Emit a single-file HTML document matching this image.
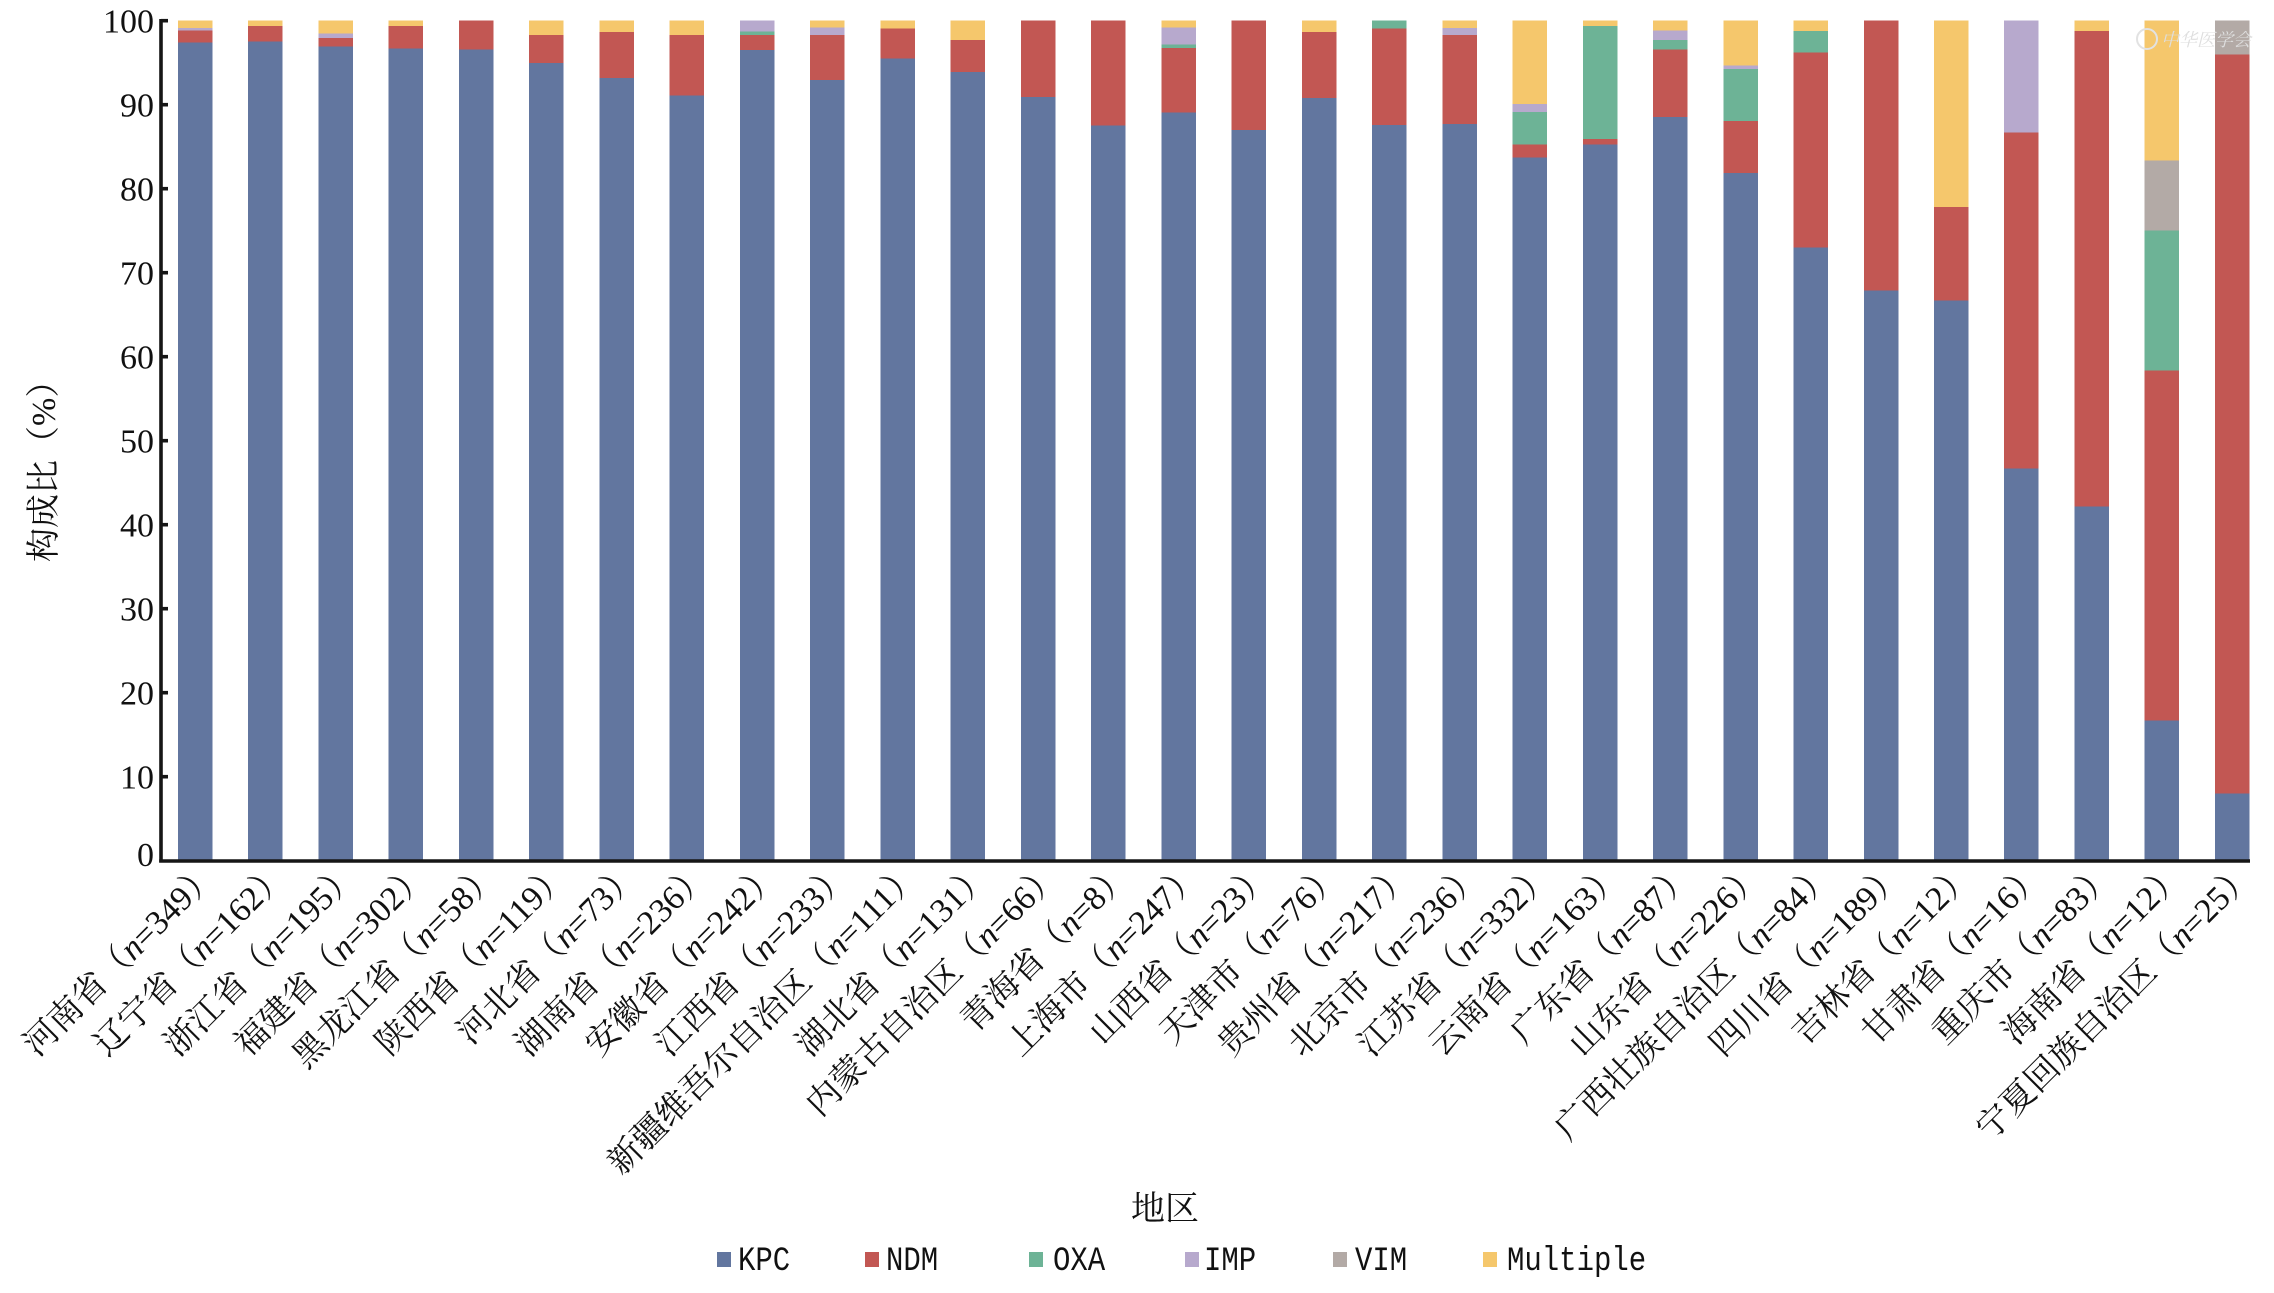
<!DOCTYPE html>
<html><head><meta charset="utf-8"><style>
html,body{margin:0;padding:0;background:#fff;}
svg{display:block;}
.t{font-family:"Liberation Serif","Noto Serif CJK SC",serif;font-size:34px;fill:#111;}
.lg{font-family:"Liberation Mono","Noto Serif CJK SC",monospace;font-size:29px;fill:#111;}
.wm{font-family:"Liberation Serif","Noto Serif CJK SC",serif;font-size:18px;font-style:italic;fill:#dedede;}
</style></head><body>
<svg width="2274" height="1293" viewBox="0 0 2274 1293" xmlns="http://www.w3.org/2000/svg">
<rect width="2274" height="1293" fill="#fff"/>
<g shape-rendering="crispEdges">
<!-- 1 河南 -->
<rect x="178" y="20.7" width="34.5" height="840" fill="#F5C76C"/>
<rect x="178" y="27.92" width="34.5" height="832.78" fill="#B7A9CD"/>
<rect x="178" y="30.36" width="34.5" height="830.34" fill="#C25753"/>
<rect x="178" y="42.37" width="34.5" height="818.33" fill="#62769F"/>
<!-- 2 辽宁 -->
<rect x="248.24" y="20.7" width="34.5" height="840" fill="#F5C76C"/>
<rect x="248.24" y="25.91" width="34.5" height="834.79" fill="#C25753"/>
<rect x="248.24" y="41.45" width="34.5" height="819.25" fill="#62769F"/>
<!-- 3 浙江 -->
<rect x="318.48" y="20.7" width="34.5" height="840" fill="#F5C76C"/>
<rect x="318.48" y="33.64" width="34.5" height="827.06" fill="#B7A9CD"/>
<rect x="318.48" y="37.92" width="34.5" height="822.78" fill="#C25753"/>
<rect x="318.48" y="46.57" width="34.5" height="814.13" fill="#62769F"/>
<!-- 4 福建 -->
<rect x="388.72" y="20.7" width="34.5" height="840" fill="#F5C76C"/>
<rect x="388.72" y="26.24" width="34.5" height="834.46" fill="#C25753"/>
<rect x="388.72" y="48.5" width="34.5" height="812.2" fill="#62769F"/>
<!-- 5 黑龙江 -->
<rect x="458.96" y="20.7" width="34.5" height="840" fill="#C25753"/>
<rect x="458.96" y="49.68" width="34.5" height="811.02" fill="#62769F"/>
<!-- 6 陕西 -->
<rect x="529.2" y="20.7" width="34.5" height="840" fill="#F5C76C"/>
<rect x="529.2" y="34.81" width="34.5" height="825.89" fill="#C25753"/>
<rect x="529.2" y="63.04" width="34.5" height="797.66" fill="#62769F"/>
<!-- 7 河北 -->
<rect x="599.44" y="20.7" width="34.5" height="840" fill="#F5C76C"/>
<rect x="599.44" y="32.21" width="34.5" height="828.49" fill="#C25753"/>
<rect x="599.44" y="78.24" width="34.5" height="782.46" fill="#62769F"/>
<!-- 8 湖南 -->
<rect x="669.68" y="20.7" width="34.5" height="840" fill="#F5C76C"/>
<rect x="669.68" y="34.98" width="34.5" height="825.72" fill="#C25753"/>
<rect x="669.68" y="95.46" width="34.5" height="765.24" fill="#62769F"/>
<!-- 9 安徽 -->
<rect x="739.92" y="20.7" width="34.5" height="840" fill="#B7A9CD"/>
<rect x="739.92" y="31.62" width="34.5" height="829.08" fill="#6DB396"/>
<rect x="739.92" y="34.98" width="34.5" height="825.72" fill="#C25753"/>
<rect x="739.92" y="50.1" width="34.5" height="810.6" fill="#62769F"/>
<!-- 10 江西 -->
<rect x="810.16" y="20.7" width="34.5" height="840" fill="#F5C76C"/>
<rect x="810.16" y="27.42" width="34.5" height="833.28" fill="#B7A9CD"/>
<rect x="810.16" y="35.06" width="34.5" height="825.64" fill="#C25753"/>
<rect x="810.16" y="79.92" width="34.5" height="780.78" fill="#62769F"/>
<!-- 11 新疆 -->
<rect x="880.4" y="20.7" width="34.5" height="840" fill="#F5C76C"/>
<rect x="880.4" y="28.26" width="34.5" height="832.44" fill="#C25753"/>
<rect x="880.4" y="58.5" width="34.5" height="802.2" fill="#62769F"/>
<!-- 12 湖北 -->
<rect x="950.64" y="20.7" width="34.5" height="840" fill="#F5C76C"/>
<rect x="950.64" y="40.02" width="34.5" height="820.68" fill="#C25753"/>
<rect x="950.64" y="71.94" width="34.5" height="788.76" fill="#62769F"/>
<!-- 13 内蒙古 -->
<rect x="1020.88" y="20.7" width="34.5" height="840" fill="#C25753"/>
<rect x="1020.88" y="97.14" width="34.5" height="763.56" fill="#62769F"/>
<!-- 14 青海 -->
<rect x="1091.12" y="20.7" width="34.5" height="840" fill="#C25753"/>
<rect x="1091.12" y="125.7" width="34.5" height="735" fill="#62769F"/>
<!-- 15 上海 -->
<rect x="1161.36" y="20.7" width="34.5" height="840" fill="#F5C76C"/>
<rect x="1161.36" y="27.5" width="34.5" height="833.2" fill="#B7A9CD"/>
<rect x="1161.36" y="44.47" width="34.5" height="816.23" fill="#6DB396"/>
<rect x="1161.36" y="47.92" width="34.5" height="812.78" fill="#C25753"/>
<rect x="1161.36" y="112.51" width="34.5" height="748.19" fill="#62769F"/>
<!-- 16 山西 -->
<rect x="1231.6" y="20.7" width="34.5" height="840" fill="#C25753"/>
<rect x="1231.6" y="130.24" width="34.5" height="730.46" fill="#62769F"/>
<!-- 17 天津 -->
<rect x="1301.84" y="20.7" width="34.5" height="840" fill="#F5C76C"/>
<rect x="1301.84" y="31.79" width="34.5" height="828.91" fill="#C25753"/>
<rect x="1301.84" y="98.06" width="34.5" height="762.64" fill="#62769F"/>
<!-- 18 贵州 -->
<rect x="1372.08" y="20.7" width="34.5" height="840" fill="#6DB396"/>
<rect x="1372.08" y="28.43" width="34.5" height="832.27" fill="#C25753"/>
<rect x="1372.08" y="125.2" width="34.5" height="735.5" fill="#62769F"/>
<!-- 19 北京 -->
<rect x="1442.32" y="20.7" width="34.5" height="840" fill="#F5C76C"/>
<rect x="1442.32" y="27.84" width="34.5" height="832.86" fill="#B7A9CD"/>
<rect x="1442.32" y="34.98" width="34.5" height="825.72" fill="#C25753"/>
<rect x="1442.32" y="123.94" width="34.5" height="736.76" fill="#62769F"/>
<!-- 20 江苏 -->
<rect x="1512.56" y="20.7" width="34.5" height="840" fill="#F5C76C"/>
<rect x="1512.56" y="104.2" width="34.5" height="756.5" fill="#B7A9CD"/>
<rect x="1512.56" y="111.76" width="34.5" height="748.94" fill="#6DB396"/>
<rect x="1512.56" y="144.68" width="34.5" height="716.02" fill="#C25753"/>
<rect x="1512.56" y="157.37" width="34.5" height="703.33" fill="#62769F"/>
<!-- 21 云南 -->
<rect x="1582.8" y="20.7" width="34.5" height="840" fill="#F5C76C"/>
<rect x="1582.8" y="25.82" width="34.5" height="834.88" fill="#6DB396"/>
<rect x="1582.8" y="139.22" width="34.5" height="721.48" fill="#C25753"/>
<rect x="1582.8" y="144.35" width="34.5" height="716.35" fill="#62769F"/>
<!-- 22 广东 -->
<rect x="1653.04" y="20.7" width="34.5" height="840" fill="#F5C76C"/>
<rect x="1653.04" y="30.28" width="34.5" height="830.42" fill="#B7A9CD"/>
<rect x="1653.04" y="39.94" width="34.5" height="820.76" fill="#6DB396"/>
<rect x="1653.04" y="49.6" width="34.5" height="811.1" fill="#C25753"/>
<rect x="1653.04" y="117.22" width="34.5" height="743.48" fill="#62769F"/>
<!-- 23 山东 -->
<rect x="1723.28" y="20.7" width="34.5" height="840" fill="#F5C76C"/>
<rect x="1723.28" y="65.39" width="34.5" height="795.31" fill="#B7A9CD"/>
<rect x="1723.28" y="69.08" width="34.5" height="791.62" fill="#6DB396"/>
<rect x="1723.28" y="121.08" width="34.5" height="739.62" fill="#C25753"/>
<rect x="1723.28" y="173.08" width="34.5" height="687.62" fill="#62769F"/>
<!-- 24 广西 -->
<rect x="1793.52" y="20.7" width="34.5" height="840" fill="#F5C76C"/>
<rect x="1793.52" y="31.03" width="34.5" height="829.67" fill="#6DB396"/>
<rect x="1793.52" y="52.37" width="34.5" height="808.33" fill="#C25753"/>
<rect x="1793.52" y="247.5" width="34.5" height="613.2" fill="#62769F"/>
<!-- 25 四川 -->
<rect x="1863.76" y="20.7" width="34.5" height="840" fill="#C25753"/>
<rect x="1863.76" y="290.34" width="34.5" height="570.36" fill="#62769F"/>
<!-- 26 吉林 -->
<rect x="1934" y="20.7" width="34.5" height="840" fill="#F5C76C"/>
<rect x="1934" y="207.18" width="34.5" height="653.52" fill="#C25753"/>
<rect x="1934" y="300.42" width="34.5" height="560.28" fill="#62769F"/>
<!-- 27 甘肃 -->
<rect x="2004.24" y="20.7" width="34.5" height="840" fill="#B7A9CD"/>
<rect x="2004.24" y="132.42" width="34.5" height="728.28" fill="#C25753"/>
<rect x="2004.24" y="468.42" width="34.5" height="392.28" fill="#62769F"/>
<!-- 28 重庆 -->
<rect x="2074.48" y="20.7" width="34.5" height="840" fill="#F5C76C"/>
<rect x="2074.48" y="30.78" width="34.5" height="829.92" fill="#C25753"/>
<rect x="2074.48" y="506.47" width="34.5" height="354.23" fill="#62769F"/>
<!-- 29 海南 -->
<rect x="2144.72" y="20.7" width="34.5" height="840" fill="#F5C76C"/>
<rect x="2144.72" y="160.73" width="34.5" height="699.97" fill="#B3AAA6"/>
<rect x="2144.72" y="230.7" width="34.5" height="630" fill="#6DB396"/>
<rect x="2144.72" y="370.73" width="34.5" height="489.97" fill="#C25753"/>
<rect x="2144.72" y="720.67" width="34.5" height="140.03" fill="#62769F"/>
<!-- 30 宁夏 -->
<rect x="2214.96" y="20.7" width="34.5" height="840" fill="#B3AAA6"/>
<rect x="2214.96" y="54.3" width="34.5" height="806.4" fill="#C25753"/>
<rect x="2214.96" y="793.5" width="34.5" height="67.2" fill="#62769F"/>
</g>

<!-- axes -->
<g stroke="#161616" stroke-width="3.6" fill="none">
<line x1="161" y1="19" x2="161" y2="862.5"/>
<line x1="159.2" y1="861" x2="2250" y2="861"/>
<line x1="161" y1="20.7" x2="168" y2="20.7"/>
<line x1="161" y1="104.7" x2="168" y2="104.7"/>
<line x1="161" y1="188.7" x2="168" y2="188.7"/>
<line x1="161" y1="272.7" x2="168" y2="272.7"/>
<line x1="161" y1="356.7" x2="168" y2="356.7"/>
<line x1="161" y1="440.7" x2="168" y2="440.7"/>
<line x1="161" y1="524.7" x2="168" y2="524.7"/>
<line x1="161" y1="608.7" x2="168" y2="608.7"/>
<line x1="161" y1="692.7" x2="168" y2="692.7"/>
<line x1="161" y1="776.7" x2="168" y2="776.7"/>
</g>
<g class="t" text-anchor="end">
<text x="154" y="32.5">100</text>
<text x="154" y="116.5">90</text>
<text x="154" y="200.5">80</text>
<text x="154" y="284.5">70</text>
<text x="154" y="368.5">60</text>
<text x="154" y="452.5">50</text>
<text x="154" y="536.5">40</text>
<text x="154" y="620.5">30</text>
<text x="154" y="704.5">20</text>
<text x="154" y="788.5">10</text>
<text x="154" y="866">0</text>
</g>

<!-- y title -->
<text class="t" x="0" y="0" transform="translate(55,562) rotate(-90)">构成比（%）</text>

<!-- x labels -->
<g class="t" text-anchor="end">
<text x="219.25" y="876" transform="rotate(-45 219.25 876)">河南省（<tspan font-style="italic">n</tspan>=349）</text>
<text x="289.49" y="876" transform="rotate(-45 289.49 876)">辽宁省（<tspan font-style="italic">n</tspan>=162）</text>
<text x="359.73" y="876" transform="rotate(-45 359.73 876)">浙江省（<tspan font-style="italic">n</tspan>=195）</text>
<text x="429.97" y="876" transform="rotate(-45 429.97 876)">福建省（<tspan font-style="italic">n</tspan>=302）</text>
<text x="500.21" y="876" transform="rotate(-45 500.21 876)">黑龙江省（<tspan font-style="italic">n</tspan>=58）</text>
<text x="570.45" y="876" transform="rotate(-45 570.45 876)">陕西省（<tspan font-style="italic">n</tspan>=119）</text>
<text x="640.69" y="876" transform="rotate(-45 640.69 876)">河北省（<tspan font-style="italic">n</tspan>=73）</text>
<text x="710.93" y="876" transform="rotate(-45 710.93 876)">湖南省（<tspan font-style="italic">n</tspan>=236）</text>
<text x="781.17" y="876" transform="rotate(-45 781.17 876)">安徽省（<tspan font-style="italic">n</tspan>=242）</text>
<text x="851.41" y="876" transform="rotate(-45 851.41 876)">江西省（<tspan font-style="italic">n</tspan>=233）</text>
<text x="921.65" y="876" transform="rotate(-45 921.65 876)">新疆维吾尔自治区（<tspan font-style="italic">n</tspan>=111）</text>
<text x="991.89" y="876" transform="rotate(-45 991.89 876)">湖北省（<tspan font-style="italic">n</tspan>=131）</text>
<text x="1062.13" y="876" transform="rotate(-45 1062.13 876)">内蒙古自治区（<tspan font-style="italic">n</tspan>=66）</text>
<text x="1132.37" y="876" transform="rotate(-45 1132.37 876)">青海省（<tspan font-style="italic">n</tspan>=8）</text>
<text x="1202.61" y="876" transform="rotate(-45 1202.61 876)">上海市（<tspan font-style="italic">n</tspan>=247）</text>
<text x="1272.85" y="876" transform="rotate(-45 1272.85 876)">山西省（<tspan font-style="italic">n</tspan>=23）</text>
<text x="1343.09" y="876" transform="rotate(-45 1343.09 876)">天津市（<tspan font-style="italic">n</tspan>=76）</text>
<text x="1413.33" y="876" transform="rotate(-45 1413.33 876)">贵州省（<tspan font-style="italic">n</tspan>=217）</text>
<text x="1483.57" y="876" transform="rotate(-45 1483.57 876)">北京市（<tspan font-style="italic">n</tspan>=236）</text>
<text x="1553.81" y="876" transform="rotate(-45 1553.81 876)">江苏省（<tspan font-style="italic">n</tspan>=332）</text>
<text x="1624.05" y="876" transform="rotate(-45 1624.05 876)">云南省（<tspan font-style="italic">n</tspan>=163）</text>
<text x="1694.29" y="876" transform="rotate(-45 1694.29 876)">广东省（<tspan font-style="italic">n</tspan>=87）</text>
<text x="1764.53" y="876" transform="rotate(-45 1764.53 876)">山东省（<tspan font-style="italic">n</tspan>=226）</text>
<text x="1834.77" y="876" transform="rotate(-45 1834.77 876)">广西壮族自治区（<tspan font-style="italic">n</tspan>=84）</text>
<text x="1905.01" y="876" transform="rotate(-45 1905.01 876)">四川省（<tspan font-style="italic">n</tspan>=189）</text>
<text x="1975.25" y="876" transform="rotate(-45 1975.25 876)">吉林省（<tspan font-style="italic">n</tspan>=12）</text>
<text x="2045.49" y="876" transform="rotate(-45 2045.49 876)">甘肃省（<tspan font-style="italic">n</tspan>=16）</text>
<text x="2115.73" y="876" transform="rotate(-45 2115.73 876)">重庆市（<tspan font-style="italic">n</tspan>=83）</text>
<text x="2185.97" y="876" transform="rotate(-45 2185.97 876)">海南省（<tspan font-style="italic">n</tspan>=12）</text>
<text x="2256.21" y="876" transform="rotate(-45 2256.21 876)">宁夏回族自治区（<tspan font-style="italic">n</tspan>=25）</text>
</g>

<!-- x title -->
<text class="t" x="1165" y="1220" text-anchor="middle">地区</text>

<!-- legend -->
<rect x="717" y="1252" width="14" height="15" fill="#62769F"/>
<text class="lg" transform="translate(738,1270) scale(1,1.18)">KPC</text>
<rect x="865" y="1252" width="14" height="15" fill="#C25753"/>
<text class="lg" transform="translate(886,1270) scale(1,1.18)">NDM</text>
<rect x="1029" y="1252" width="14" height="15" fill="#6DB396"/>
<text class="lg" transform="translate(1053,1270) scale(1,1.18)">OXA</text>
<rect x="1185" y="1252" width="14" height="15" fill="#B7A9CD"/>
<text class="lg" transform="translate(1204,1270) scale(1,1.18)">IMP</text>
<rect x="1333" y="1252" width="14" height="15" fill="#B3AAA6"/>
<text class="lg" transform="translate(1355,1270) scale(1,1.18)">VIM</text>
<rect x="1483" y="1252" width="14" height="15" fill="#F5C76C"/>
<text class="lg" transform="translate(1507,1270) scale(1,1.18)">Multiple</text>

<!-- faint watermark -->
<circle cx="2147" cy="39" r="10" fill="none" stroke="#e2e2e2" stroke-width="2"/>
<text class="wm" x="2161" y="46">中华医学会</text>
</svg>
</body></html>
